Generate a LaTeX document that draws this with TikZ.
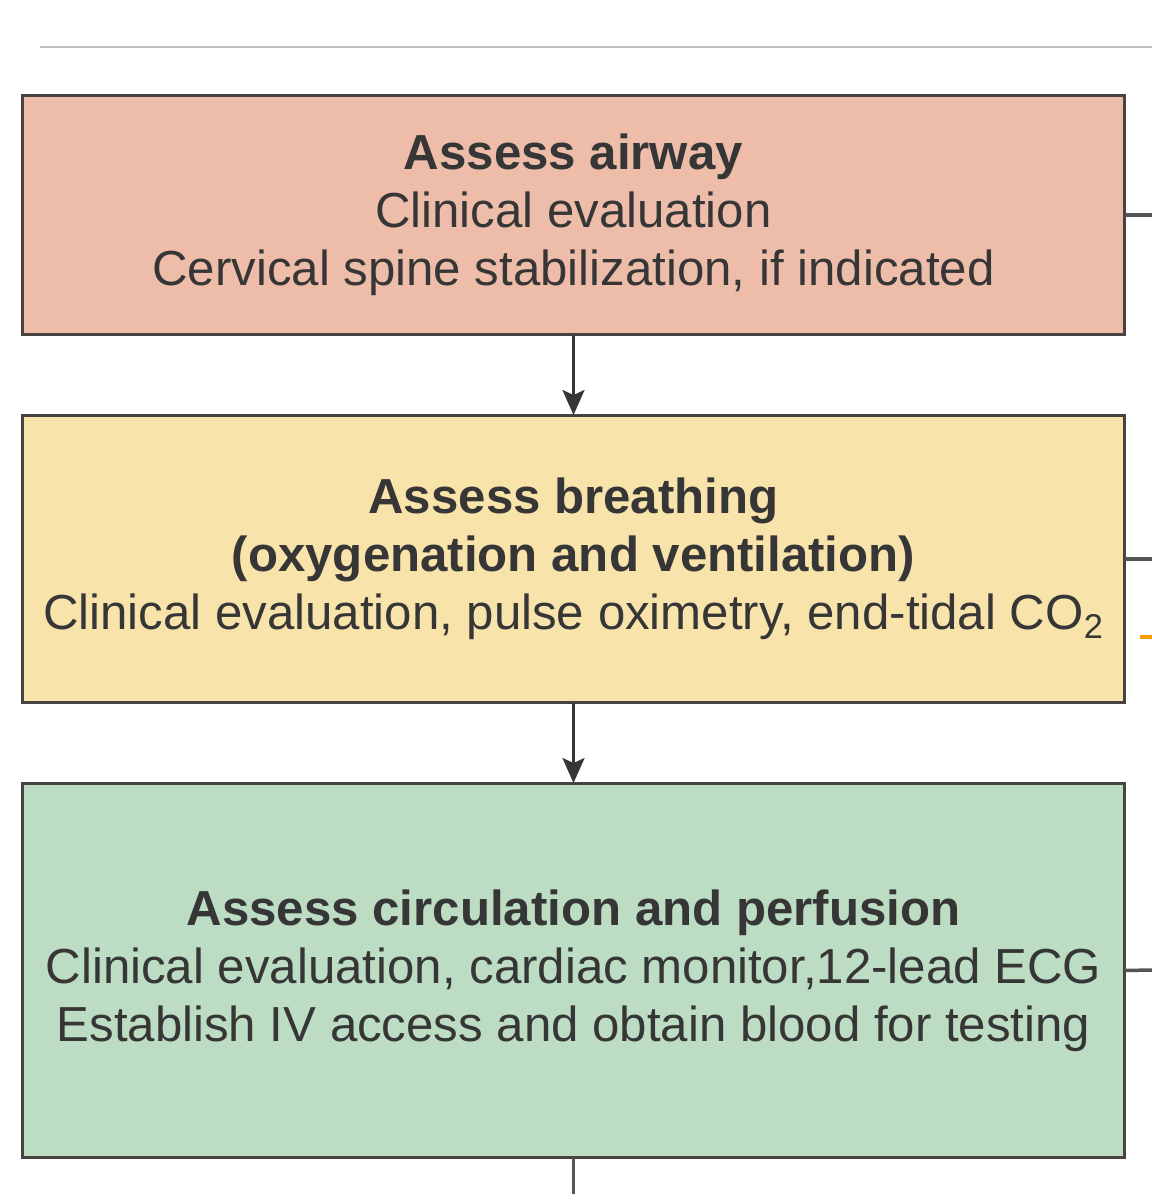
\documentclass[tikz,border=0pt]{standalone}
\usepackage{fontspec}
\setmainfont{Liberation Sans}
\usepackage{xcolor}
\usetikzlibrary{
    arrows.meta,
    calc,
    positioning
}
\definecolor{airwayfill}{HTML}{EDBDA9}
\definecolor{breathfill}{HTML}{F8E3AB}
\definecolor{circfill}{HTML}{BCDCC3}
\definecolor{boxline}{HTML}{4A4240}
\definecolor{txt}{HTML}{363636}

\begin{document}
\begin{tikzpicture}[x=0.02cm, y=-0.02cm,
    stage/.style={rectangle, draw=boxline, line width=0.06cm, inner sep=0pt, outer sep=0pt,
        minimum width=22.06cm, align=center, text=txt,
        font=\fontsize{28}{33}\selectfont},
    arr/.style={-{Stealth[length=0.5cm, width=0.44cm, inset=0.1cm]}, line width=0.055cm, draw=txt},
    stub/.style={line width=0.07cm, draw=txt!85}]
                        \useasboundingbox (0,0) rectangle (1152,1200);
                        \draw[line width=0.04cm, draw=black!25] (40,47) -- (1152,47);

                        \node[stage, fill=airwayfill, minimum height=4.8cm] (airway) at (573.5,215)
                            {\textbf{Assess airway}\\Clinical evaluation\\Cervical spine stabilization, if indicated};
                        \node[stage, fill=breathfill, minimum height=5.76cm] (breathing) at (573.5,559)
                            {\textbf{Assess breathing}\\\textbf{(oxygenation and ventilation)}\\Clinical evaluation, pulse oximetry, end-tidal CO\textsubscript{2}};
                        \node[stage, fill=circfill, minimum height=7.5cm] (circulation) at (573.5,970.5)
                            {\textbf{Assess circulation and perfusion}\\Clinical evaluation, cardiac monitor,12-lead ECG\\Establish IV access and obtain blood for testing};

                        \coordinate (next) at (573.5,1194);
                        \coordinate (a1) at (1152,215);
                        \coordinate (b1) at (1152,559);
                        \coordinate (c1) at (1152,970);

                        \draw[arr] (airway) -- (breathing);
                        \draw[arr] (breathing) -- (circulation);
                        \draw[stub] (circulation) -- (next);
                        \draw[stub] (airway.east) -- (a1);
                        \draw[stub] (breathing.east) -- (b1);
                        \draw[stub] (circulation.east) -- (c1);
                        \draw[line width=0.07cm, draw=orange!80!yellow] (1140,637) -- (1152,637);
                    \end{tikzpicture}
\end{document}
